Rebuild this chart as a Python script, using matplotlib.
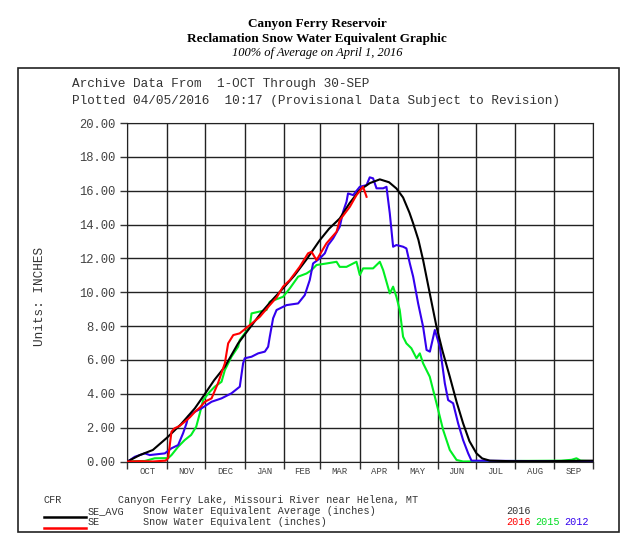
import matplotlib
matplotlib.use("Agg")
import matplotlib.pyplot as plt
from matplotlib.patches import Rectangle
from matplotlib.lines import Line2D

# day of water year (0 = 1-Oct) and snow water equivalent (inches)
avg_day = [0, 1.4, 9.8, 20, 31, 42, 52.9, 60.2, 68, 76.4, 86.8, 95, 105, 113, 122, 131, 140,
           150.8, 158, 166.4, 174, 182, 190, 197.8, 205, 210.8, 216, 221, 223.9, 228, 231.7,
           237, 242.2, 247, 252.6, 258, 263, 268, 273.5, 278, 284, 300, 330, 365]
avg_val = [0.0, 0.05, 0.38, 0.68, 1.4, 2.2, 3.14, 3.93, 4.8, 5.6, 6.98, 7.8, 8.8, 9.5, 10.23,
           11.0, 11.9, 13.08, 13.75, 14.36, 15.25, 16.04, 16.45, 16.67, 16.5, 16.13, 15.6,
           14.7, 14.07, 13.1, 11.9, 9.9, 7.96, 6.5, 5.01, 3.5, 2.26, 1.2, 0.48, 0.18, 0.05,
           0.02, 0.02, 0.05]

se16_day = [0, 10, 20, 30, 32, 34.6, 37, 41, 45, 49, 53, 57, 60.7, 66, 71, 76.4, 79, 83, 88,
            96, 103.8, 111.6, 117, 122, 127.3, 135, 141.6, 144.3, 148.2, 156, 163.9, 166.4,
            174.3, 179.5, 184.7, 187.4]
se16_val = [0.0, 0.02, 0.0, 0.05, 0.2, 1.76, 1.96, 2.1, 2.35, 2.61, 2.94, 3.2, 3.53, 3.73,
            4.62, 5.8, 6.98, 7.47, 7.57, 8.06, 8.55, 9.24, 9.7, 10.33, 10.72, 11.5, 12.3,
            12.39, 11.9, 12.89, 13.57, 14.26, 15.05, 15.74, 16.23, 15.64]

se15_day = [0, 5, 13.7, 21.5, 32, 34.6, 39.8, 45, 50, 54, 56.8, 59.4, 64.6, 68.5, 73.8, 76.4,
            81.6, 86.8, 88.1, 95.9, 97.3, 109, 111.6, 122, 127.3, 133.8, 140.4, 144.3, 148.2,
            156, 163.9, 166.4, 171.7, 176.9, 179.5, 182.1, 184.7, 192.5, 197.8, 200.4, 205.6,
            208.2, 210.8, 213.4, 216, 218.6, 222.5, 226.5, 229.1, 231.7, 236.9, 242.2, 247.4,
            252.6, 257.9, 263, 300, 340, 348, 351.8, 355, 365]
se15_val = [0.0, 0.02, 0.03, 0.19, 0.2, 0.38, 0.87, 1.27, 1.57, 2.06, 2.85, 3.63, 4.12, 4.42,
            4.71, 5.4, 6.19, 6.78, 7.18, 7.96, 8.75, 8.95, 9.44, 9.73, 10.23, 10.92, 11.11,
            11.31, 11.61, 11.7, 11.8, 11.5, 11.5, 11.7, 11.8, 11.02, 11.41, 11.41, 11.8, 11.31,
            9.93, 10.33, 9.73, 8.95, 7.37, 6.98, 6.69, 6.1, 6.39, 5.8, 5.01, 3.44, 1.86, 0.68,
            0.09, 0.0, 0.03, 0.05, 0.1, 0.19, 0.05, 0.02]

se12_day = [0, 1.4, 5.9, 13.7, 17.6, 29.4, 34.6, 39.8, 43.7, 46.4, 47.6, 52.9, 58.1, 66, 73.8,
            81.6, 88.1, 90.7, 92, 97.3, 102.5, 107.7, 110.3, 111.6, 114.2, 116.9, 124.7, 133.8,
            139, 142.9, 145.5, 150.8, 154.7, 157.3, 161.2, 166.4, 169, 171.7, 172.9, 176.9,
            182.1, 187.4, 189.9, 192.5, 195.2, 200.4, 203, 205.6, 208.2, 210.8, 216, 218.6,
            221.3, 223.9, 227.8, 231.7, 234.4, 237, 240.9, 244.8, 248.7, 251.3, 255.2, 259.1,
            263, 267, 269.6, 365]
se12_val = [0.0, 0.05, 0.28, 0.48, 0.38, 0.48, 0.78, 0.97, 1.67, 2.26, 2.65, 2.94, 3.14, 3.53,
            3.73, 4.03, 4.42, 5.8, 6.1, 6.19, 6.39, 6.49, 6.78, 7.37, 8.46, 8.95, 9.24, 9.34,
            9.83, 10.72, 11.7, 12.0, 12.3, 12.79, 13.18, 13.87, 14.75, 15.35, 15.84, 15.74,
            16.23, 16.33, 16.79, 16.73, 16.14, 16.14, 16.23, 14.66, 12.69, 12.79, 12.69, 12.59,
            11.7, 10.92, 9.34, 7.96, 6.59, 6.49, 7.77, 6.78, 4.62, 3.63, 3.44, 2.26, 1.27,
            0.48, 0.05, 0.0]

months = ["OCT", "NOV", "DEC", "JAN", "FEB", "MAR", "APR", "MAY", "JUN", "JUL", "AUG", "SEP"]
month_start = [0, 31, 61, 92, 123, 151, 182, 212, 243, 273, 304, 334, 365]
y_ticks = [0, 2, 4, 6, 8, 10, 12, 14, 16, 18, 20]

mono = "Liberation Mono"
serif = "Liberation Serif"

fig = plt.figure(figsize=(6.34, 5.44), dpi=100)
fig.patches.append(Rectangle((18.3 / 634, 12 / 544), 601 / 634, 464 / 544,
                             transform=fig.transFigure, fill=False, edgecolor="#222", lw=1.2))

fig.text(0.5, 1 - 24 / 544, "Canyon Ferry Reservoir", ha="center", va="center",
         family=serif, weight="bold", fontsize=9.5)
fig.text(0.5, 1 - 39 / 544, "Reclamation Snow Water Equivalent Graphic", ha="center",
         va="center", family=serif, weight="bold", fontsize=9.5)
fig.text(0.5, 1 - 53 / 544, "100% of Average on April 1, 2016", ha="center", va="center",
         family=serif, style="italic", fontsize=9)

fig.text(72 / 634, 1 - 84 / 544, "Archive Data From  1-OCT Through 30-SEP", ha="left",
         va="center", family=mono, fontsize=9.2, color="#333")
fig.text(72 / 634, 1 - 101 / 544,
         "Plotted 04/05/2016  10:17 (Provisional Data Subject to Revision)", ha="left",
         va="center", family=mono, fontsize=9.2, color="#333")

ax = fig.add_axes([127.3 / 634, 1 - 461.5 / 544, 466 / 634, 338.5 / 544])
ax.plot(avg_day, avg_val, color="black", lw=1.5, zorder=5)
ax.plot(se15_day, se15_val, color="#00ee22", lw=1.5, zorder=3)
ax.plot(se12_day, se12_val, color="#3300ee", lw=1.5, zorder=4)
ax.plot(se16_day, se16_val, color="#ff0000", lw=1.5, zorder=6)

ax.set_xlim(0, 365)
ax.set_ylim(0, 20)
ax.set_yticks(y_ticks)
ax.set_yticklabels(["%.2f" % v for v in y_ticks], family=mono, fontsize=8.7, color="#444")
ax.set_xticks(month_start)
ax.set_xticklabels([])
mid = [(month_start[i] + month_start[i + 1]) / 2 for i in range(12)]
ax.set_xticks(mid, minor=True)
ax.set_xticklabels(months, minor=True, family=mono, fontsize=6.5, color="#444")
ax.tick_params(axis="x", which="minor", length=0, pad=4)
ax.tick_params(axis="both", which="major", length=5, color="#333", width=1)
ax.grid(True, which="major", color="#222", lw=1)
for s in ax.spines.values():
    s.set_color("#222")
fig.text(40 / 634, 1 - 296 / 544, "Units: INCHES", rotation=90, ha="center", va="center",
         family=mono, fontsize=9.2, color="#333")

fig.text(44 / 634, 1 - 500 / 544, "CFR", family=mono, fontsize=7.3, va="center", color="#333")
fig.text(118 / 634, 1 - 500 / 544, "Canyon Ferry Lake, Missouri River near Helena, MT",
         family=mono, fontsize=7.3, va="center", color="#333")
fig.text(88 / 634, 1 - 511 / 544, "SE_AVG", family=mono, fontsize=7.3, va="center", color="#333")
fig.text(143 / 634, 1 - 511 / 544, "Snow Water Equivalent Average (inches)", family=mono,
         fontsize=7.3, va="center", color="#333")
fig.text(88 / 634, 1 - 522 / 544, "SE", family=mono, fontsize=7.3, va="center", color="#333")
fig.text(143 / 634, 1 - 522 / 544, "Snow Water Equivalent (inches)", family=mono,
         fontsize=7.3, va="center", color="#333")
fig.text(506 / 634, 1 - 511 / 544, "2016", family=mono, fontsize=7.3, va="center", color="#333")
fig.text(506 / 634, 1 - 522 / 544, "2016", family=mono, fontsize=7.3, va="center", color="#ff0000")
fig.text(535 / 634, 1 - 522 / 544, "2015", family=mono, fontsize=7.3, va="center", color="#00dd22")
fig.text(564 / 634, 1 - 522 / 544, "2012", family=mono, fontsize=7.3, va="center", color="#3300ee")
fig.lines.append(Line2D([44 / 634, 86 / 634], [1 - 517 / 544] * 2, transform=fig.transFigure,
                        color="black", lw=1.8))
fig.lines.append(Line2D([44 / 634, 86 / 634], [1 - 528 / 544] * 2, transform=fig.transFigure,
                        color="#ff0000", lw=1.8))

fig.savefig("out.png", dpi=100, facecolor="white")
